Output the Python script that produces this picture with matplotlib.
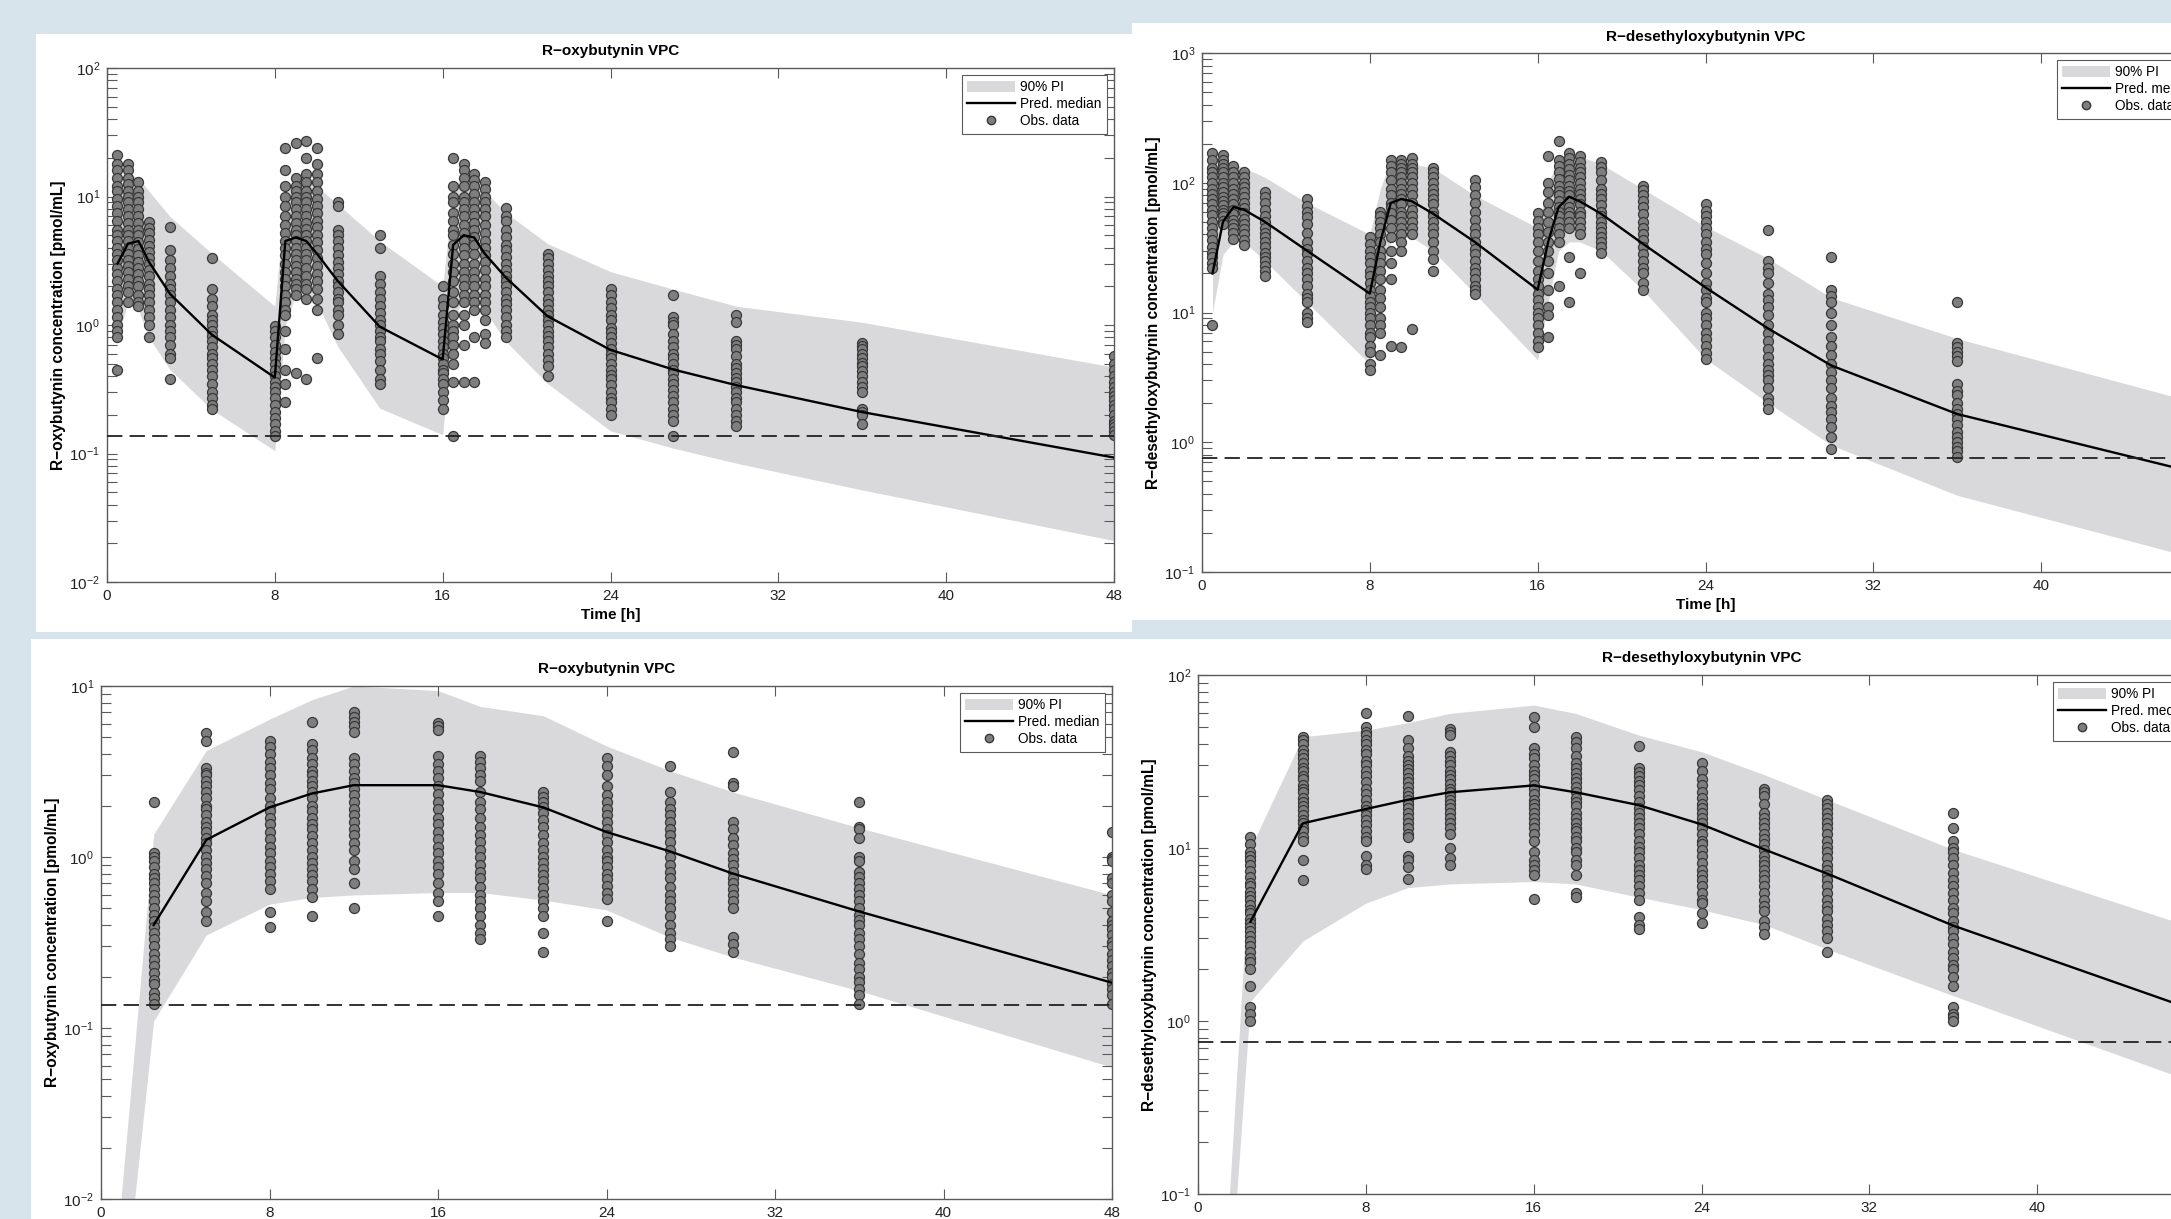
import matplotlib
matplotlib.use("Agg")
import matplotlib.pyplot as plt
from matplotlib.patches import Rectangle, Patch
from matplotlib.lines import Line2D

plt.rcParams['font.family'] = ['Liberation Sans', 'DejaVu Sans']
plt.rcParams['mathtext.fontset'] = 'custom'
plt.rcParams['mathtext.rm'] = 'Liberation Sans'
plt.rcParams['mathtext.it'] = 'Liberation Sans:italic'
plt.rcParams['mathtext.bf'] = 'Liberation Sans:bold'

# ---------------- Panel 1: R-oxybutynin, IR (3 doses) ----------------
p1_band_t = [0.5, 1, 1.5, 2, 3, 5, 8, 8.5, 9, 9.5, 10, 11, 13, 16, 16.5, 17, 17.5, 18, 19, 21, 24, 27, 30, 36, 48]
p1_upper = [10, 15, 14, 11, 7, 3.6, 1.4, 10, 14, 14, 12, 8.7, 4.5, 2.0, 11, 15, 14, 11, 7.5, 4.3, 2.6, 1.9, 1.4, 1.05, 0.47]
p1_lower = [0.8, 1.5, 1.3, 0.8, 0.45, 0.22, 0.105, 1.0, 1.75, 1.7, 1.5, 0.68, 0.225, 0.14, 1.0, 1.7, 1.5, 1.3, 0.75, 0.35, 0.15, 0.11, 0.084, 0.052, 0.021]
p1_median = [3.0, 4.3, 4.5, 3.1, 1.75, 0.84, 0.39, 4.5, 4.8, 4.5, 3.6, 2.2, 0.97, 0.54, 4.2, 5.0, 4.8, 3.6, 2.35, 1.17, 0.64, 0.45, 0.34, 0.21, 0.093]
p1_obs_t = [0.5, 1, 1.5, 2, 3, 5, 8, 8.5, 9, 9.5, 10, 11, 13, 16, 16.5, 17, 17.5, 18, 19, 21, 24, 27, 30, 36, 48]
p1_obs = [
    [21, 18, 16, 14, 12, 11, 9.5, 8.5, 7.5, 6.5, 5.5, 5, 4.5, 4, 3.6, 3.2, 2.8, 2.5, 2.2, 1.9, 1.7, 1.5, 1.3, 1.15, 1.0, 0.9, 0.8, 0.45],
    [18, 16, 14, 12.5, 11, 10, 9, 8, 7, 6.2, 5.5, 5, 4.5, 4, 3.6, 3.2, 2.9, 2.6, 2.3, 2, 1.8, 1.5],
    [13, 11, 10, 9, 8, 7, 6.2, 5.5, 5, 4.4, 3.9, 3.5, 3.1, 2.8, 2.5, 2.2, 2, 1.7, 1.5, 1.4],
    [6.3, 5.7, 5.2, 4.6, 4.1, 3.7, 3.3, 3, 2.7, 2.4, 2.1, 1.9, 1.7, 1.5, 1.3, 1.15, 1.0, 0.8],
    [5.8, 3.8, 3.2, 2.8, 2.4, 2.1, 1.9, 1.7, 1.5, 1.3, 1.15, 1.0, 0.9, 0.8, 0.7, 0.6, 0.55, 0.38],
    [3.3, 1.9, 1.6, 1.4, 1.2, 1.1, 1.0, 0.9, 0.82, 0.75, 0.68, 0.6, 0.55, 0.5, 0.45, 0.4, 0.35, 0.3, 0.27, 0.24, 0.22],
    [0.98, 0.9, 0.8, 0.7, 0.62, 0.55, 0.5, 0.45, 0.4, 0.36, 0.33, 0.3, 0.27, 0.24, 0.21, 0.19, 0.17, 0.15, 0.137],
    [24, 16, 12, 10, 8.5, 7, 6, 5.2, 4.5, 4, 3.5, 3, 2.6, 2.3, 2, 1.7, 1.5, 1.3, 1.2, 0.9, 0.65, 0.45, 0.35, 0.25],
    [26, 14, 12, 11, 10, 9, 8, 7, 6.2, 5.5, 5, 4.5, 4, 3.6, 3.2, 2.9, 2.6, 2.3, 2.1, 1.9, 1.7, 0.42],
    [27, 20, 15, 13, 11, 10, 9, 8, 7, 6.2, 5.6, 5, 4.5, 4, 3.6, 3.2, 2.8, 2.4, 2.1, 1.9, 1.6, 0.38],
    [24, 18, 15, 13, 11, 9.5, 8.5, 7.5, 6.5, 5.8, 5, 4.4, 3.8, 3.3, 2.9, 2.5, 2.2, 1.9, 1.6, 1.3, 0.55],
    [9, 8.5, 5.5, 5, 4.5, 4, 3.5, 3.1, 2.8, 2.5, 2.2, 2, 1.8, 1.6, 1.5, 1.3, 1.2, 1.0, 0.85],
    [5, 4, 2.4, 2.1, 1.8, 1.6, 1.4, 1.25, 1.1, 1.0, 0.9, 0.8, 0.75, 0.65, 0.6, 0.52, 0.45, 0.38, 0.35],
    [2.0, 1.6, 1.4, 1.2, 1.05, 0.95, 0.85, 0.75, 0.67, 0.6, 0.55, 0.5, 0.45, 0.42, 0.38, 0.35, 0.3, 0.26, 0.22],
    [20, 12, 10, 9, 7.5, 6.5, 5.5, 5, 4.2, 3.6, 3, 2.6, 2.2, 1.8, 1.5, 1.2, 1.0, 0.9, 0.8, 0.7, 0.6, 0.5, 0.36, 0.137],
    [18, 16, 14, 12, 10, 9, 8, 7, 6, 5.2, 4.5, 4, 3.5, 3, 2.6, 2.3, 2, 1.7, 1.5, 1.2, 1, 0.7, 0.36],
    [15, 13.5, 12, 10.5, 9, 8, 7, 6.2, 5.5, 4.8, 4.2, 3.6, 3, 2.6, 2.3, 2, 1.7, 1.5, 1.3, 0.8, 0.36],
    [13, 11.5, 10, 9, 8, 7, 6, 5.2, 4.5, 4, 3.5, 3.1, 2.7, 2.3, 2, 1.7, 1.5, 1.3, 1.1, 0.85, 0.72],
    [8.2, 7, 6.5, 5.5, 4.8, 4.2, 3.8, 3.4, 3, 2.7, 2.4, 2.2, 2, 1.8, 1.6, 1.45, 1.3, 1.15, 1.0, 0.9, 0.8],
    [3.6, 3.3, 3, 2.7, 2.4, 2.2, 2, 1.8, 1.6, 1.45, 1.3, 1.2, 1.1, 1.0, 0.9, 0.82, 0.75, 0.67, 0.6, 0.53, 0.48, 0.4],
    [1.9, 1.7, 1.5, 1.35, 1.2, 1.1, 0.95, 0.88, 0.8, 0.72, 0.65, 0.6, 0.55, 0.5, 0.45, 0.41, 0.38, 0.34, 0.3, 0.27, 0.25, 0.22, 0.2],
    [1.7, 1.15, 1.05, 1.0, 0.85, 0.75, 0.67, 0.6, 0.55, 0.5, 0.45, 0.42, 0.38, 0.35, 0.31, 0.28, 0.25, 0.22, 0.2, 0.18, 0.137],
    [1.2, 1.05, 0.75, 0.7, 0.65, 0.57, 0.5, 0.46, 0.42, 0.39, 0.36, 0.33, 0.3, 0.27, 0.25, 0.22, 0.2, 0.18, 0.165],
    [0.73, 0.69, 0.65, 0.6, 0.55, 0.51, 0.48, 0.44, 0.4, 0.36, 0.33, 0.3, 0.22, 0.21, 0.2, 0.17],
    [0.57, 0.5, 0.45, 0.4, 0.36, 0.33, 0.3, 0.28, 0.26, 0.24, 0.22, 0.2, 0.18, 0.17, 0.16, 0.15, 0.14],
]
p1_lloq = 0.137

# ---------------- Panel 2: R-desethyloxybutynin, IR ----------------
p2_band_t = [0.5, 1, 1.5, 2, 3, 5, 8, 8.5, 9, 9.5, 10, 11, 13, 16, 16.5, 17, 17.5, 18, 19, 21, 24, 27, 30, 36, 48]
p2_upper = [110, 150, 140, 130, 110, 70, 40, 90, 150, 150, 140, 130, 80, 45, 100, 150, 160, 160, 140, 90, 46, 26, 13, 6.3, 1.9]
p2_lower = [10, 28, 35, 35, 25, 12, 4.0, 15, 35, 38, 38, 30, 14, 4.3, 12, 30, 35, 35, 30, 15, 4.4, 2.0, 0.95, 0.39, 0.12]
p2_median = [20, 50, 65, 62, 50, 30, 14, 35, 70, 75, 72, 58, 35, 15, 35, 65, 78, 72, 58, 34, 15.6, 7.5, 3.9, 1.65, 0.55]
p2_obs_t = [0.5, 1, 1.5, 2, 3, 5, 8, 8.5, 9, 9.5, 10, 11, 13, 16, 16.5, 17, 17.5, 18, 19, 21, 24, 27, 30, 36]
p2_obs = [
    [170, 150, 130, 120, 110, 100, 90, 82, 75, 68, 62, 56, 50, 45, 40, 36, 32, 29, 27, 24, 22, 8],
    [165, 150, 140, 130, 120, 110, 100, 92, 85, 78, 72, 67, 62, 58, 55, 51, 48],
    [135, 120, 110, 100, 90, 82, 75, 68, 62, 57, 52, 48, 45, 41, 37],
    [120, 110, 100, 92, 85, 77, 70, 64, 58, 53, 48, 44, 40, 36, 33],
    [85, 77, 70, 62, 55, 50, 45, 41, 38, 35, 32, 29, 27, 25, 23, 21, 19],
    [75, 66, 60, 54, 48, 41, 35, 31, 28, 25, 22, 20, 18, 16, 14, 13, 12, 10, 9, 8.5],
    [38, 34, 30, 27, 24, 21, 19, 17, 15, 13.5, 12, 11, 10, 9, 8, 7, 6.5, 5.5, 5, 4, 3.6],
    [60, 55, 50, 45, 40, 35, 30, 27, 24, 21, 18, 15, 13, 11, 9, 8, 7, 4.7],
    [150, 135, 120, 105, 90, 80, 70, 65, 58, 52, 45, 38, 30, 24, 18, 5.5],
    [150, 140, 130, 120, 110, 100, 90, 82, 75, 68, 60, 55, 50, 45, 40, 35, 30, 5.4],
    [155, 140, 130, 120, 110, 100, 90, 80, 70, 62, 55, 50, 45, 40, 7.5],
    [130, 120, 110, 100, 90, 82, 75, 68, 60, 55, 50, 45, 40, 35, 30, 26, 21],
    [105, 92, 80, 70, 60, 52, 45, 40, 35, 31, 28, 25, 22, 20, 18, 16, 15, 14],
    [58, 51, 45, 40, 35, 30, 25, 21, 18, 16, 14, 12.5, 11, 10, 9, 8, 7, 6, 5.4],
    [160, 100, 85, 70, 60, 50, 42, 35, 30, 25, 20, 15, 11, 9.5, 6.5],
    [210, 150, 135, 120, 107, 95, 87, 80, 72, 65, 60, 55, 50, 45, 40, 35, 16],
    [170, 155, 140, 127, 115, 105, 95, 87, 80, 72, 65, 60, 55, 50, 45, 27, 12],
    [160, 145, 130, 120, 110, 100, 90, 82, 75, 68, 60, 55, 50, 45, 40, 20],
    [145, 132, 120, 105, 90, 82, 75, 67, 60, 55, 50, 46, 42, 38, 35, 32, 29],
    [95, 88, 80, 72, 65, 57, 50, 45, 40, 36, 32, 28, 25, 22, 20, 17, 15],
    [68, 61, 55, 50, 45, 40, 35, 31, 28, 24, 20, 17, 15, 13, 12, 10, 9, 8, 7, 6.2, 5.5, 4.9, 4.4],
    [43, 25, 22, 20, 17, 14, 12.5, 11, 9.5, 8, 7, 6, 5.2, 4.5, 4, 3.6, 3.3, 3, 2.6, 2.2, 2, 1.8],
    [27, 15, 13.5, 12, 10, 8, 6.5, 5.5, 4.7, 4, 3.5, 3, 2.6, 2.2, 1.9, 1.7, 1.5, 1.3, 1.1, 0.89],
    [12, 5.8, 5.4, 5, 4.6, 4.2, 2.8, 2.5, 2.3, 2, 1.8, 1.65, 1.5, 1.35, 1.2, 1.1, 1.0, 0.92, 0.85, 0.77],
]
p2_lloq = 0.757

# ---------------- Panel 3: R-oxybutynin, ER (single dose) ----------------
p3_band_t = [0.5, 2.5, 5, 8, 10, 12, 16, 18, 21, 24, 27, 30, 36, 48]
p3_upper = [0.0024, 1.36, 4.2, 6.4, 8.3, 10, 9.4, 7.6, 6.7, 4.46, 3.2, 2.4, 1.48, 0.6]
p3_lower = [0.00054, 0.11, 0.35, 0.53, 0.58, 0.6, 0.62, 0.62, 0.56, 0.49, 0.34, 0.26, 0.165, 0.059]
p3_med_t = [2.5, 5, 8, 10, 12, 16, 18, 21, 24, 27, 30, 36, 48]
p3_median = [0.40, 1.26, 1.95, 2.35, 2.63, 2.63, 2.4, 1.95, 1.4, 1.08, 0.8, 0.48, 0.184]
p3_obs_t = [2.5, 5, 8, 10, 12, 16, 18, 21, 24, 27, 30, 36, 48]
p3_obs = [
    [2.1, 1.05, 1.0, 0.95, 0.87, 0.8, 0.75, 0.7, 0.65, 0.6, 0.55, 0.5, 0.46, 0.42, 0.39, 0.36, 0.33, 0.3, 0.27, 0.25, 0.23, 0.21, 0.19, 0.18, 0.16, 0.15, 0.138],
    [5.3, 4.8, 3.3, 3.1, 3.0, 2.8, 2.6, 2.4, 2.2, 2.0, 1.9, 1.75, 1.6, 1.5, 1.4, 1.3, 1.2, 1.1, 1.0, 0.92, 0.85, 0.77, 0.7, 0.62, 0.55, 0.48, 0.42],
    [4.8, 4.4, 4.0, 3.6, 3.3, 3.0, 2.7, 2.5, 2.2, 2.0, 1.85, 1.7, 1.55, 1.4, 1.28, 1.15, 1.05, 0.95, 0.87, 0.8, 0.72, 0.65, 0.48, 0.39],
    [6.2, 4.6, 4.2, 3.8, 3.5, 3.2, 3.0, 2.8, 2.6, 2.4, 2.2, 2.0, 1.85, 1.7, 1.55, 1.45, 1.32, 1.2, 1.1, 1.0, 0.92, 0.85, 0.78, 0.72, 0.65, 0.58, 0.45],
    [7.0, 6.6, 6.2, 5.8, 5.4, 3.8, 3.5, 3.2, 2.9, 2.7, 2.5, 2.3, 2.1, 1.9, 1.75, 1.6, 1.45, 1.35, 1.2, 1.1, 0.95, 0.85, 0.7, 0.5],
    [6.1, 5.8, 5.5, 3.9, 3.5, 3.2, 2.9, 2.6, 2.35, 2.1, 1.9, 1.7, 1.55, 1.4, 1.28, 1.15, 1.05, 0.95, 0.87, 0.8, 0.7, 0.62, 0.55, 0.45],
    [3.9, 3.6, 3.3, 3.0, 2.8, 2.4, 2.1, 1.9, 1.7, 1.5, 1.35, 1.22, 1.1, 1.0, 0.9, 0.82, 0.75, 0.67, 0.6, 0.55, 0.5, 0.45, 0.4, 0.36, 0.33],
    [2.4, 2.25, 2.1, 1.95, 1.8, 1.65, 1.5, 1.35, 1.2, 1.1, 1.0, 0.92, 0.85, 0.78, 0.72, 0.66, 0.6, 0.55, 0.5, 0.45, 0.36, 0.28],
    [3.8, 3.4, 3.0, 2.6, 2.3, 2.1, 1.9, 1.75, 1.6, 1.45, 1.35, 1.22, 1.1, 1.0, 0.95, 0.87, 0.8, 0.74, 0.68, 0.62, 0.57, 0.42],
    [3.4, 2.4, 2.1, 1.9, 1.75, 1.6, 1.45, 1.35, 1.22, 1.1, 1.0, 0.9, 0.82, 0.75, 0.67, 0.6, 0.55, 0.5, 0.45, 0.4, 0.36, 0.33, 0.3],
    [4.1, 2.7, 2.6, 1.6, 1.45, 1.3, 1.17, 1.05, 0.97, 0.9, 0.82, 0.75, 0.7, 0.65, 0.6, 0.55, 0.5, 0.34, 0.31, 0.28],
    [2.1, 1.5, 1.45, 1.3, 1.0, 0.95, 0.82, 0.76, 0.7, 0.65, 0.6, 0.55, 0.5, 0.46, 0.43, 0.4, 0.36, 0.33, 0.3, 0.27, 0.24, 0.22, 0.2, 0.185, 0.17, 0.155, 0.138],
    [1.4, 1.0, 0.97, 0.95, 0.75, 0.7, 0.6, 0.55, 0.48, 0.42, 0.4, 0.38, 0.35, 0.32, 0.3, 0.27, 0.25, 0.23, 0.21, 0.2, 0.18, 0.17, 0.155, 0.138],
]
p3_lloq = 0.137

# ---------------- Panel 4: R-desethyloxybutynin, ER ----------------
p4_band_t = [0.5, 2.5, 5, 8, 10, 12, 16, 18, 21, 24, 27, 30, 36, 48]
p4_upper = [0.001, 10, 44, 48, 53, 60, 67, 60, 45, 36, 26.5, 19, 9.8, 3.3]
p4_lower = [0.0005, 1.3, 2.9, 4.8, 5.9, 6.2, 6.4, 6.2, 5.2, 4.4, 3.6, 2.6, 1.4, 0.42]
p4_med_t = [2.5, 5, 8, 10, 12, 16, 18, 21, 24, 27, 30, 36, 48]
p4_median = [3.75, 13.9, 16.8, 19, 21, 23, 21, 17.7, 13.7, 9.8, 7.1, 3.56, 1.1]
p4_obs_t = [2.5, 5, 8, 10, 12, 16, 18, 21, 24, 27, 30, 36]
p4_obs = [
    [11.5, 10.5, 9.5, 9, 8.5, 8, 7.4, 6.8, 6.3, 6, 5.6, 5.3, 5, 4.7, 4.4, 4.2, 3.9, 3.7, 3.5, 3.3, 3.1, 2.9, 2.7, 2.5, 2.3, 2.2, 2.0, 1.6, 1.2, 1.1, 1.0],
    [44, 42, 40, 37, 35, 33, 31, 29, 28, 26, 25, 23, 22, 21, 19.5, 18.5, 17.5, 16.5, 15.5, 14.5, 14, 13, 12.5, 11.5, 11, 8.5, 6.5],
    [60, 50, 47, 45, 42, 40, 37, 35, 32, 30, 28, 26, 24, 22, 20.5, 19, 17.5, 16.5, 15.5, 14.5, 13.5, 12.5, 11.5, 11, 9, 8, 7.6],
    [58, 42, 38, 34, 32, 30, 28.5, 27, 25.5, 24, 22.5, 21, 20, 19, 18, 17, 16, 15, 14, 13, 12, 11.5, 9, 8.5, 7.8, 6.6],
    [49, 47, 45, 36, 34, 32, 30, 28, 26.5, 25, 23.5, 22, 21, 20, 19, 18, 17, 16, 15, 14, 13, 12, 10, 8.7, 8],
    [57, 50, 38, 35, 33, 30, 28, 26.5, 25, 23, 22, 20.5, 19, 18, 17, 16, 15, 14, 13, 12, 11, 9.5, 8.5, 8, 7.5, 7, 5.1],
    [44, 41, 38, 34, 31, 29, 27, 25.5, 24, 22.5, 21, 19.5, 18.5, 17.5, 16, 15, 14, 13, 12.5, 11.5, 11, 10, 9.5, 8.5, 8, 7, 5.5, 5.2],
    [39, 29, 27.5, 26, 24.5, 23, 21.5, 20, 18.5, 17, 16, 15, 14, 13, 12, 11, 10.2, 9.5, 8.7, 8, 7.5, 7, 6.5, 6, 5.5, 5, 4, 3.6, 3.4],
    [31, 28, 25, 23, 21, 19.5, 18, 17, 16, 15, 14, 13, 12, 11, 10.5, 9.7, 9, 8.2, 7.5, 7, 6.5, 6, 5.5, 5, 4.8, 4.2, 3.7],
    [22, 21, 20, 18, 16, 15, 14, 13, 12, 11.2, 10.5, 9.7, 9, 8.4, 8, 7.5, 7, 6.5, 6, 5.5, 5, 4.6, 4.3, 3.8, 3.5, 3.2],
    [19, 18, 17, 16, 15, 14, 13, 12, 11, 10.2, 9.5, 8.7, 8, 7.5, 7, 6.5, 6, 5.5, 5, 4.6, 4.3, 3.9, 3.6, 3.3, 3.0, 2.5],
    [16, 13, 11, 10, 9.5, 8.7, 8, 7.2, 6.5, 6, 5.5, 5, 4.5, 4.2, 3.8, 3.5, 3.3, 3.0, 2.8, 2.5, 2.3, 2.1, 2.0, 1.8, 1.6, 1.2, 1.1, 1.05, 1.0],
]
p4_lloq = 0.757

x_ticks = [0, 8, 16, 24, 32, 40, 48]
title_oxy = "R\u2212oxybutynin VPC"
title_des = "R\u2212desethyloxybutynin VPC"
ylab_oxy = "R\u2212oxybutynin concentration [pmol/mL]"
ylab_des = "R\u2212desethyloxybutynin concentration [pmol/mL]"
legend_labels = ["90% PI", "Pred. median", "Obs. data"]

BG = '#d7e4eb'
BAND = '#d9d9dc'
AXC = '#5a5a5a'

W, H = 2171, 1219
fig = plt.figure(figsize=(W / 100, H / 100), dpi=100)
fig.patch.set_facecolor(BG)

# white panel backgrounds (pixel boxes: x0, y0_top, x1, y1_bottom)
for (x0, y0, x1, y1) in [(36, 34, 1132, 632), (1132, 23, 2171, 620),
                         (31, 639, 1132, 1219), (1132, 639, 2171, 1219)]:
    fig.patches.append(Rectangle((x0 / W, 1 - y1 / H), (x1 - x0) / W, (y1 - y0) / H,
                                 transform=fig.transFigure, facecolor='white',
                                 edgecolor='none', zorder=-5))


def make_ax(px):
    x0, y0, x1, y1 = px
    return fig.add_axes([x0 / W, 1 - y1 / H, (x1 - x0) / W, (y1 - y0) / H])


def draw(ax, bt, lo, up, mt, med, ot, obs, lloq, ylim, title, ylabel, xlabel):
    ax.set_facecolor('none')
    ax.fill_between(bt, lo, up, color=BAND, linewidth=0, zorder=1)
    for t, vals in zip(ot, obs):
        ax.plot([t] * len(vals), vals, linestyle='none', marker='o', markersize=7.2,
                markerfacecolor='#7e7e7e', markeredgecolor='#383838',
                markeredgewidth=0.9, zorder=2)
    ax.plot(mt, med, color='black', linewidth=1.7, zorder=3)
    ax.axhline(lloq, color='#222222', linewidth=1.3, dashes=(8.5, 4), zorder=4)
    ax.set_yscale('log')
    ax.set_xlim(0, 48)
    ax.set_ylim(*ylim)
    ax.set_xticks(x_ticks)
    ax.tick_params(which='both', direction='in', top=True, right=True,
                   length=7, width=0.8, color=AXC, labelsize=11,
                   labelcolor='#222222', pad=5)
    for s in ax.spines.values():
        s.set_color(AXC)
        s.set_linewidth(1.0)
    ax.set_title(title, fontsize=11, fontweight='bold', pad=9)
    ax.set_ylabel(ylabel, fontsize=11.2, fontweight='bold')
    ax.yaxis.set_label_coords(-41.0 / 1007, 0.5)
    if xlabel:
        ax.set_xlabel("Time [h]", fontsize=11, fontweight='bold', labelpad=4)
    handles = [Patch(facecolor=BAND, edgecolor='none'),
               Line2D([], [], color='black', linewidth=1.7),
               Line2D([], [], linestyle='none', marker='o', markersize=6,
                      markerfacecolor='#7e7e7e', markeredgecolor='#383838')]
    leg = ax.legend(handles, legend_labels, loc='upper right', fontsize=9.8,
                    handlelength=3.5, handleheight=0.9, handletextpad=0.4,
                    borderpad=0.4, labelspacing=0.22, borderaxespad=0.5,
                    fancybox=False, framealpha=1, edgecolor=AXC)
    leg.get_frame().set_linewidth(0.8)


ax1 = make_ax((107, 68, 1114, 582))
draw(ax1, p1_band_t, p1_lower, p1_upper, p1_band_t, p1_median, p1_obs_t, p1_obs,
     p1_lloq, (1e-2, 1e2), title_oxy, ylab_oxy, True)

ax2 = make_ax((1202, 53, 2209, 572))
draw(ax2, p2_band_t, p2_lower, p2_upper, p2_band_t, p2_median, p2_obs_t, p2_obs,
     p2_lloq, (1e-1, 1e3), title_des, ylab_des, True)

ax3 = make_ax((101, 686, 1112, 1199))
draw(ax3, p3_band_t, p3_lower, p3_upper, p3_med_t, p3_median, p3_obs_t, p3_obs,
     p3_lloq, (1e-2, 1e1), title_oxy, ylab_oxy, False)

ax4 = make_ax((1198, 675, 2205, 1194))
draw(ax4, p4_band_t, p4_lower, p4_upper, p4_med_t, p4_median, p4_obs_t, p4_obs,
     p4_lloq, (1e-1, 1e2), title_des, ylab_des, False)

fig.savefig("out.png", dpi=100, facecolor=BG)
